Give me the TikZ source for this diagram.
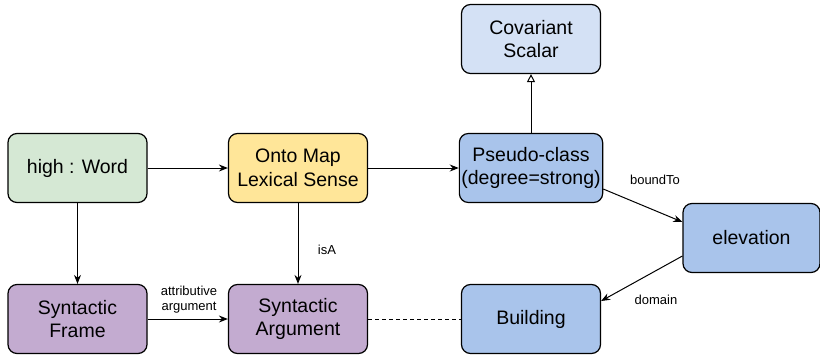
\documentclass[tikz,border=0pt]{standalone}
\usepackage{fontspec}
\setmainfont{Liberation Sans}
\usetikzlibrary{arrows.meta}
\definecolor{wordgreen}{HTML}{D5E8D4}
\definecolor{senseyellow}{HTML}{FFE699}
\definecolor{synpurple}{HTML}{C3ABD0}
\definecolor{classblue}{HTML}{A9C4EB}
\definecolor{paleblue}{HTML}{D4E1F5}
\tikzset{
  box/.style={draw=black, line width=1.2pt, rounded corners=9pt, minimum width=139pt,
    minimum height=69pt, align=center, inner sep=2pt,
    font=\fontsize{19.5}{23.5}\selectfont},
  conn/.style={line width=1pt, -{Stealth[length=9pt,width=7pt]}},
  elabel/.style={font=\fontsize{13}{15.5}\selectfont, align=center}
}
\begin{document}
\begin{tikzpicture}[x=1pt, y=-1pt]
\useasboundingbox (0,0) rectangle (820,354);
\node[box, fill=wordgreen] (word) at (77.5,168) {high : Word};
\node[box, fill=senseyellow] (sense) at (298,168) {Onto Map\\Lexical Sense};
\node[box, fill=classblue] (pseudo) at (531,168) {Pseudo-class\\(degree=strong)};
\node[box, fill=paleblue] (scalar) at (531,39) {Covariant\\Scalar};
\node[box, fill=classblue, minimum width=137pt] (elev) at (751.5,238) {elevation};
\node[box, fill=synpurple] (frame) at (77.5,319) {Syntactic\\Frame};
\node[box, fill=synpurple] (arg) at (298,319) {Syntactic\\Argument};
\node[box, fill=classblue] (bldg) at (531,319) {Building};

\draw[conn] (word) -- (sense);
\draw[conn] (sense) -- (pseudo);
\draw[conn] (word) -- (frame);
\draw[conn] (sense) -- (arg);
\node[elabel] (isalbl) at (327,250) {isA};
\draw[conn] (frame) -- (arg);
\node[elabel] (attlbl) at (189,299.5) {attributive\\argument};
\draw[line width=1pt, -{Triangle[open, length=8pt, width=8pt]}] (pseudo) -- (scalar);
\coordinate (pseudoout) at ([yshift=-21pt]pseudo.east);
\coordinate (elevin) at ([yshift=16pt]elev.west);
\draw[conn] (pseudoout) -- (elevin);
\node[elabel] (boundlbl) at (655,180) {boundTo};
\coordinate (elevout) at ([yshift=-18pt]elev.west);
\coordinate (bldgin) at ([yshift=18pt]bldg.east);
\draw[conn] (elevout) -- (bldgin);
\node[elabel] (domlbl) at (656,300) {domain};
\draw[line width=1pt, dashed, dash pattern=on 4pt off 3pt] (arg) -- (bldg);
\end{tikzpicture}
\end{document}
